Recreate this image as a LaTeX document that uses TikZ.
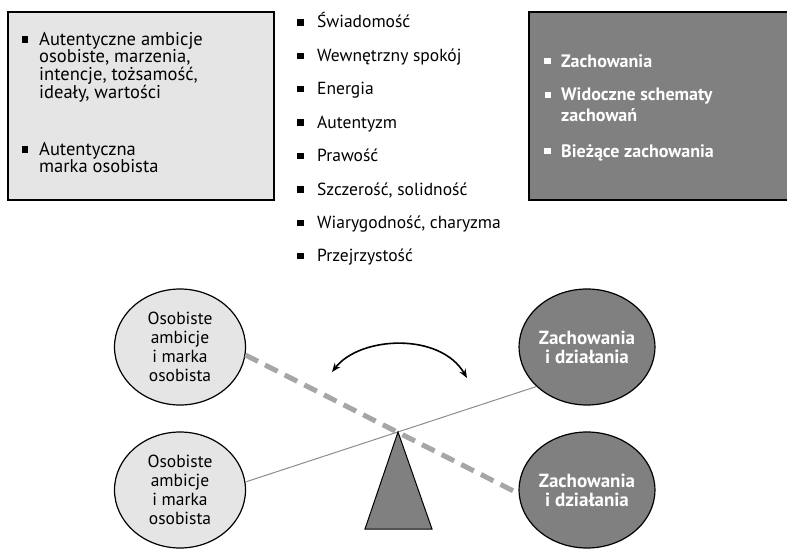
\documentclass[tikz,border=0pt]{standalone}
\usepackage{fontspec}
\setmainfont{PT Sans}
\usetikzlibrary{shapes.geometric, arrows.meta}

\newcommand{\kwadrat}{\rule[0.14em]{0.36em}{0.36em}}

\begin{document}
\begin{tikzpicture}[x=1pt, y=-1pt, >={Stealth[length=9pt, width=7pt]},
  ramka/.style={draw, line width=1.6pt},
  tekst/.style={font=\fontsize{18.5}{17.6}\selectfont, inner sep=0pt, align=left, anchor=north west},
  lista/.style={font=\fontsize{17.5}{20}\selectfont, inner sep=0pt, anchor=base west},
  bialy/.style={text=white, font=\bfseries\fontsize{18}{21}\selectfont},
  kolo/.style={ellipse, draw, line width=1.2pt, minimum width=131pt, minimum height=116pt,
    inner sep=0pt, align=center, font=\fontsize{17.5}{19}\selectfont},
  jasne/.style={fill=black!10},
  ciemne/.style={fill=black!50, text=white}
]
  \useasboundingbox (0,0) rectangle (787,551);

  \draw[ramka, jasne]  (8,12) rectangle (274,200);
  \draw[ramka, ciemne] (529,12) rectangle (800,200);

  \node[tekst] (ambicje) at (39,32)
    {\llap{\kwadrat\hspace{11pt}}Autentyczne ambicje\\osobiste, marzenia,\\intencje, tożsamość,\\ideały, wartości};
  \node[tekst] (marka) at (39,142)
    {\llap{\kwadrat\hspace{11pt}}Autentyczna\\marka osobista};

  \foreach \t [count=\i] in {Świadomość, Wewnętrzny spokój, Energia, Autentyzm, Prawość,
      {Szczerość, solidność}, {Wiarygodność, charyzma}, Przejrzystość}
    \node[lista] (cecha\i) at (297, {28+33.4*(\i-1)})
      {\makebox[20pt][l]{\kwadrat}\t};

  \node[lista, bialy] (zach) at (544,67) {\makebox[17pt][l]{\kwadrat}Zachowania};
  \node[tekst, bialy] (schematy) at (561,88) {\llap{\kwadrat\hspace{10pt}}Widoczne schematy\\zachowań};
  \node[lista, bialy] (biezace) at (544,157) {\makebox[17pt][l]{\kwadrat}Bieżące zachowania};

  \path
    coordinate (pivot) at (398,432)
    coordinate (lewo)  at (332,372)
    coordinate (prawo) at (467,378)
  ;

  \node[kolo, jasne] (osGora) at (180,347) {Osobiste\\ambicje\\i marka\\osobista};
  \node[kolo, jasne] (osDol)  at (180,490) {Osobiste\\ambicje\\i marka\\osobista};
  \node[kolo, ciemne, font=\bfseries\fontsize{19}{19}\selectfont] (zachGora) at (587,347) {Zachowania\\i działania};
  \node[kolo, ciemne, font=\bfseries\fontsize{19}{19}\selectfont] (zachDol)  at (587,490) {Zachowania\\i działania};

  \draw[black!45, line width=1pt] (osDol.7) -- (zachGora.218);
  \draw[black!35, line width=5pt, dash pattern=on 14pt off 8pt] (osGora.-7) -- (zachDol.183);

  \draw[ramka, line width=1pt, fill=black!50] (pivot) -- (432,529) -- (365,529) -- cycle;

  \draw[<->, line width=1.6pt] (lewo) .. controls (360,336) and (440,332) .. (prawo);
\end{tikzpicture}
\end{document}
